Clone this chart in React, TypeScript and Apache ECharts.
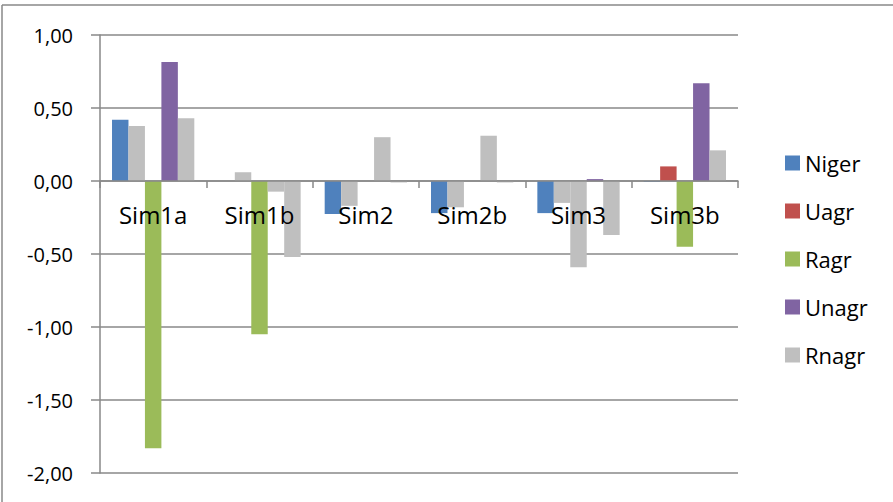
import React, { useEffect, useRef } from "react";
import * as echarts from "echarts";

const categories = ["Sim1a", "Sim1b", "Sim2", "Sim2b", "Sim3", "Sim3b"];
const seriesNames = ["Niger", "Uagr", "Ragr", "Unagr", "Rnagr"];
const niger = [0.42, 0, -0.226, -0.22, -0.22, -0.005];
const uagr = [0.377, 0.06, -0.17, -0.18, -0.15, 0.1];
const ragr = [-1.83, -1.05, 0, 0, -0.59, -0.45];
const unagr = [0.815, -0.073, 0.3, 0.31, 0.013, 0.67];
const rnagr = [0.43, -0.52, -0.01, -0.01, -0.37, 0.21];
// points drawn in grey instead of the series colour (per series, per category)
const greyNiger = [false, false, false, false, false, false];
const greyUagr = [true, true, true, true, true, false];
const greyRagr = [false, false, false, false, true, false];
const greyUnagr = [false, true, true, true, false, false];
const greyRnagr = [false, false, false, false, false, false];
const yTicks = { min: -2, max: 1, interval: 0.5 };

const colors = ["#4F81BD", "#C0504D", "#9BBB59", "#8064A2", "#BFBFBF"];
const GREY = "#BFBFBF";
const AXIS = "#898989";
const FONT = "'Open Sans', sans-serif";

const GRID_TOP = 35;
const GRID_BOTTOM = 29;
const CHART_H = 502;

export default function App() {
  const ref = useRef<HTMLDivElement>(null);
  useEffect(() => {
    if (!ref.current) return;
    const chart = echarts.init(ref.current, undefined, { renderer: "svg" });
    const values = [niger, uagr, ragr, unagr, rnagr];
    const greys = [greyNiger, greyUagr, greyRagr, greyUnagr, greyRnagr];
    const plotH = CHART_H - GRID_TOP - GRID_BOTTOM;
    const zeroFromBottom = (plotH * (0 - yTicks.min)) / (yTicks.max - yTicks.min);
    chart.setOption({
      animation: false,
      backgroundColor: "#fff",
      color: colors,
      grid: { left: 100, right: 155, top: GRID_TOP, bottom: GRID_BOTTOM, outerBoundsMode: "none", containLabel: false },
      legend: {
        orient: "vertical",
        left: 780,
        top: 147,
        itemWidth: 15,
        itemHeight: 15,
        itemGap: 26,
        icon: "rect",
        textStyle: { fontFamily: FONT, fontSize: 22, color: "#000", lineHeight: 22, padding: [0, 0, 0, 0] },
        data: seriesNames,
      },
      xAxis: {
        type: "category",
        data: categories,
        z: 5,
        offset: -zeroFromBottom,
        axisLine: { onZero: false, lineStyle: { color: AXIS, width: 1.5 } },
        axisTick: { show: true, length: 7, lineStyle: { color: AXIS, width: 1.5 } },
        axisLabel: {
          margin: 21,
          fontFamily: FONT,
          fontSize: 24,
          lineHeight: 24,
          color: "#000",
        },
        splitLine: { show: false },
      },
      yAxis: {
        type: "value",
        min: yTicks.min,
        max: yTicks.max,
        interval: yTicks.interval,
        axisLine: { show: true, lineStyle: { color: AXIS, width: 1.5 } },
        axisTick: { show: true, length: 9, lineStyle: { color: AXIS, width: 1.5 } },
        axisLabel: {
          margin: 27,
          fontFamily: FONT,
          fontSize: 20,
          color: "#000",
          formatter: (v: number) => v.toFixed(2).replace(".", ","),
        },
        splitLine: { show: true, lineStyle: { color: AXIS, width: 1.5 } },
      },
      series: seriesNames.map((name, i) => ({
        name,
        type: "bar",
        barGap: "0%",
        barCategoryGap: "22.6%",
        data: values[i].map((v, j) => ({
          value: v,
          itemStyle: greys[i][j] ? { color: GREY } : undefined,
        })),
      })),
      graphic: [
        { type: "line", shape: { x1: 2, y1: 5, x2: 893, y2: 5 }, style: { stroke: AXIS, lineWidth: 1.5 } },
        { type: "line", shape: { x1: 2, y1: 5, x2: 2, y2: 502 }, style: { stroke: AXIS, lineWidth: 1.5 } },
      ],
    });
    return () => chart.dispose();
  }, []);
  return (
    <div
      ref={ref}
      style={{ position: "fixed", left: 0, top: 0, width: 893, height: 502 }}
    />
  );
}
